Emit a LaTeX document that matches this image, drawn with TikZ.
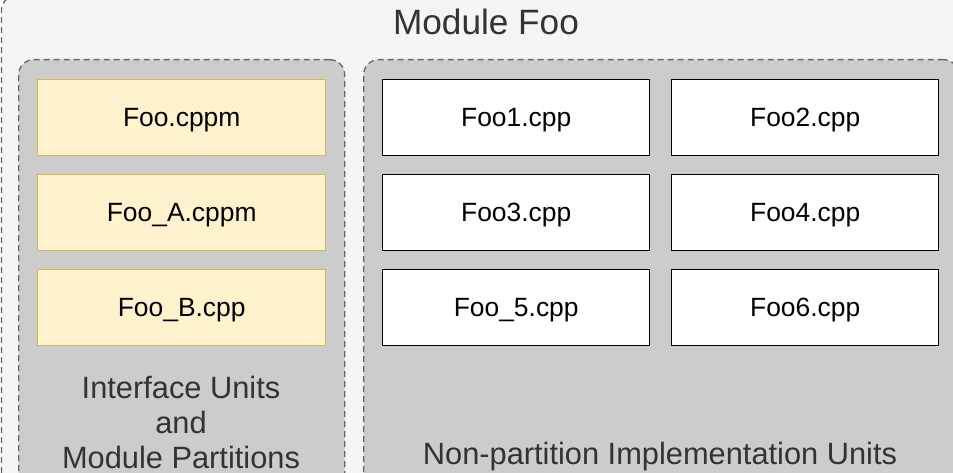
\documentclass[tikz,border=0pt]{standalone}
\usepackage{fontspec}
\setmainfont{Liberation Sans}
\definecolor{outerfill}{HTML}{F5F5F5}
\definecolor{dashgray}{HTML}{666666}
\definecolor{groupfill}{HTML}{CCCCCC}
\definecolor{yfill}{HTML}{FFF2CC}
\definecolor{yline}{HTML}{D6B656}
\definecolor{labeltext}{HTML}{333333}
\begin{document}
\begin{tikzpicture}[x=1pt,y=-1pt,
  region/.style={draw=dashgray, line width=1.3pt, dash pattern=on 6pt off 4pt, rounded corners=15pt, anchor=north west, inner sep=0pt},
  outerbox/.style={region, fill=outerfill},
  groupbox/.style={region, fill=groupfill},
  unitbox/.style={anchor=north west, inner sep=0pt, minimum height=76pt, text depth=0pt, line width=1.4pt, font=\fontsize{26.4}{30}\selectfont},
  ifacebox/.style={unitbox, draw=yline, fill=yfill, minimum width=288pt},
  implbox/.style={unitbox, draw=black, fill=white, minimum width=267pt},
  grouplabel/.style={text=labeltext, align=center, font=\fontsize{30.8}{35}\selectfont, inner sep=0pt},
  titlelabel/.style={text=labeltext, font=\fontsize{35.2}{40}\selectfont, inner sep=0pt}
]
\useasboundingbox (0,0) rectangle (953,473);
\clip (0,0) rectangle (953,473);
\node[outerbox, minimum width=1050pt, minimum height=540pt] (outer) at (0.75,-5) {};
\node[titlelabel] (title) at (486,22) {Module Foo};
\node[groupbox, minimum width=326pt, minimum height=430pt] (left) at (18,59) {};
\node[groupbox, minimum width=595pt, minimum height=430pt] (right) at (363,59) {};
\node[ifacebox] (foo) at (37,79) {Foo.cppm};
\node[ifacebox] (fooa) at (37,174) {Foo\_A.cppm};
\node[ifacebox] (foob) at (37,269) {Foo\_B.cpp};
\node[implbox] (foo1) at (382,79) {Foo1.cpp};
\node[implbox] (foo2) at (671,79) {Foo2.cpp};
\node[implbox] (foo3) at (382,174) {Foo3.cpp};
\node[implbox] (foo4) at (671,174) {Foo4.cpp};
\node[implbox] (foo5) at (382,269) {Foo\_5.cpp};
\node[implbox] (foo6) at (671,269) {Foo6.cpp};
\node[grouplabel, anchor=center] (leftlabel) at (181,422) {Interface Units\\and\\Module Partitions};
\node[grouplabel, anchor=center] (rightlabel) at (660,457) {Non-partition Implementation Units};
\end{tikzpicture}
\end{document}
